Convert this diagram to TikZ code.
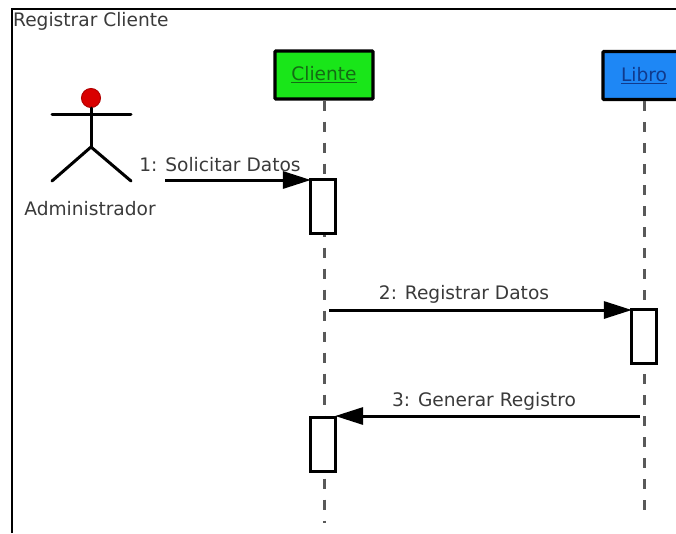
\documentclass[tikz,border=0pt]{standalone}
\usepackage{fontspec}
\setmainfont{DejaVu Sans}
\usetikzlibrary{positioning, arrows.meta}
\definecolor{verdeobj}{HTML}{19E619}
\definecolor{azulobj}{HTML}{1E87F5}
\definecolor{texto}{HTML}{3A3A3A}
\definecolor{textoverde}{HTML}{146B14}
\definecolor{textoazul}{HTML}{103A8C}
\tikzset{
  objeto/.style={
    draw,
    rectangle,
    rounded corners=1pt,
    line width=3.4pt,
    minimum height=48pt,
    inner sep=0pt,
    font=\fontsize{18.6}{21}\selectfont
  },
  activacion/.style={
    draw,
    rectangle,
    line width=3.2pt,
    fill=white,
    minimum width=25pt,
    minimum height=54pt,
    inner sep=0pt
  },
  etiqueta/.style={
    text=texto,
    font=\fontsize{18.6}{21}\selectfont,
    inner sep=0pt
  },
  vida/.style={
    draw=black!65,
    line width=3pt,
    dash pattern=on 10pt off 11pt
  },
  mensaje/.style={
    line width=3pt,
    -{Triangle[length=28pt, width=17pt]},
    shorten >=-2pt
  },
  monigote/.style={
    line width=3pt,
    line cap=round
  }
}

\begin{document}
\begin{tikzpicture}[x=1pt, y=-1pt]
        \useasboundingbox (0,0) rectangle (676,533);
        \clip (0,0) rectangle (676,533);
        \draw[line width=2.8pt] (12,533) -- (12,9) -- (676,9);
        \node[etiqueta, anchor=west] (titulo) at (13,21) {Registrar Cliente};

        % objetos
        \node[objeto, fill=verdeobj, minimum width=98pt] (cliente) at (324,75) {\textcolor{textoverde}{\underline{Cliente}}};
        \node[objeto, fill=azulobj, minimum width=82pt] (libro) at (644,75.5) {\textcolor{textoazul}{\underline{Libro}}};

        % lineas de vida
        \coordinate (finCliente) at (324,523);
        \coordinate (finLibro) at (644,520);
        \draw[vida] (cliente) -- (finCliente);
        \draw[vida] (libro) -- (finLibro);

        % activaciones
        \node[activacion] (act1) at (323,206.5) {};
        \node[activacion] (act2) at (644,336.5) {};
        \node[activacion] (act3) at (323,444.5) {};

        % actor
        \node[circle, draw=red!70!black, fill=red!85!black, line width=1pt, minimum size=19pt, inner sep=0pt] (cabeza) at (91,98) {};
        \coordinate (brazoIzq) at (52,114);
        \coordinate (brazoDer) at (131,114);
        \coordinate (cadera) at (91,147);
        \coordinate (pieIzq) at (52,181);
        \coordinate (pieDer) at (131,181);
        \draw[monigote] (cabeza) -- (cadera);
        \draw[monigote] (brazoIzq) -- (brazoDer);
        \draw[monigote] (pieIzq) -- (cadera) -- (pieDer);
        \node[etiqueta] (admin) at (90,209) {Administrador};

        % mensajes
        \coordinate (inicio1) at (165,180);
        \coordinate (inicio2) at (329,310);
        \coordinate (inicio3) at (640,416);
        \draw[mensaje] (inicio1) -- (inicio1 -| act1.west);
        \draw[mensaje] (inicio2) -- (inicio2 -| act2.west);
        \draw[mensaje] (inicio3) -- (inicio3 -| act3.east);
        \node[etiqueta] (msg1) at (220,165) {1: Solicitar Datos};
        \node[etiqueta] (msg2) at (464,294) {2: Registrar Datos};
        \node[etiqueta] (msg3) at (484,401) {3: Generar Registro};
      \end{tikzpicture}
\end{document}
